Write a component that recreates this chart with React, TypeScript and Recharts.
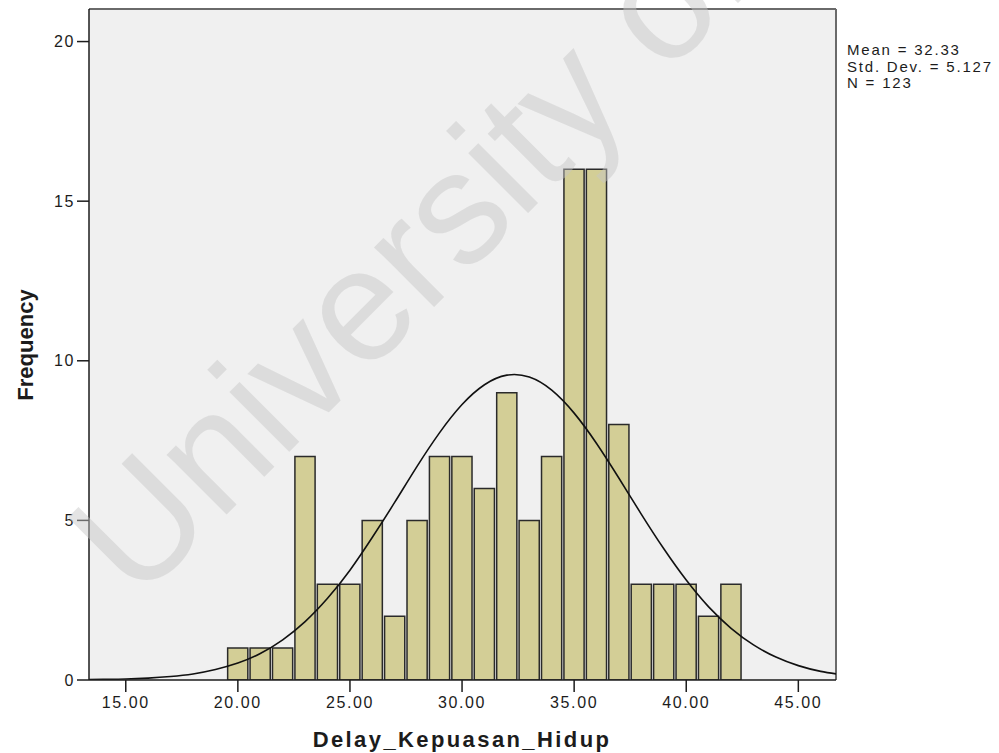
import React from 'react';
import { ComposedChart, Bar, Line, XAxis, YAxis, CartesianGrid, ReferenceLine } from 'recharts';

// histogram bins (centre of each 1-unit bin) and their frequencies
const binCenters = [20, 21, 22, 23, 24, 25, 26, 27, 28, 29, 30, 31, 32, 33, 34, 35, 36, 37, 38, 39, 40, 41, 42];
const frequencies = [1, 1, 1, 7, 3, 3, 5, 2, 5, 7, 7, 6, 9, 5, 7, 16, 16, 8, 3, 3, 3, 2, 3];

// fitted normal curve, sampled at whole units
const curveX = [13, 14, 15, 16, 17, 18, 19, 20, 21, 22, 23, 24, 25, 26, 27, 28, 29, 30, 31, 32, 33, 34, 35, 36, 37, 38, 39, 40, 41, 42, 43, 44, 45, 46, 47];
const curveY = [0.01, 0.02, 0.03, 0.06, 0.11, 0.19, 0.33, 0.53, 0.83, 1.26, 1.83, 2.56, 3.44, 4.47, 5.57, 6.70, 7.75, 8.63, 9.25, 9.55, 9.49, 9.08, 8.36, 7.41, 6.32, 5.19, 4.11, 3.13, 2.29, 1.62, 1.10, 0.72, 0.45, 0.27, 0.16];

const xTicks = [15, 20, 25, 30, 35, 40, 45];
const yTicks = [0, 5, 10, 15, 20];
const statLines = ['Mean = 32.33', 'Std. Dev. = 5.127', 'N = 123'];

const X_DOMAIN: [number, number] = [13.36, 46.68];
const Y_DOMAIN: [number, number] = [0, 21.02];

const histData = binCenters.map((x, i) => ({ x, count: frequencies[i] }));
const curveData = curveX.map((x, i) => ({ x, fit: curveY[i] }));

const W = 999;
const H = 753;
const MARGIN = { top: 9, right: 163, bottom: 33, left: 29 };
const Y_AXIS_W = 60;
const X_AXIS_H = 40;
const PLOT_W = W - MARGIN.left - MARGIN.right - Y_AXIS_W;
const BIN_PX = PLOT_W / (X_DOMAIN[1] - X_DOMAIN[0]);

const FONT = '"Liberation Sans", Arial, sans-serif';
const INK = '#1c1c1c';

const XTick = ({ x, y, payload }: any) => (
  <text x={x} y={y} dy={14} textAnchor="middle" fill={INK} fontSize={16} fontFamily={FONT} letterSpacing={1.6}>
    {Number(payload.value).toFixed(2)}
  </text>
);

const YTick = ({ x, y, payload }: any) => (
  <text x={x} y={y} dy={5.6} textAnchor="end" fill={INK} fontSize={16} fontFamily={FONT} letterSpacing={1.6}>
    {payload.value}
  </text>
);

export default function App() {
  return (
    <div style={{ position: 'absolute', left: 0, top: 0, width: W, height: H, background: '#fff' }}>
      <ComposedChart width={W} height={H} data={histData} margin={MARGIN}>
        <CartesianGrid fill="#f0f0f0" horizontal={false} vertical={false} />
        <XAxis
          dataKey="x"
          type="number"
          domain={X_DOMAIN}
          allowDataOverflow
          ticks={xTicks}
          height={X_AXIS_H}
          tickSize={12}
          tick={<XTick />}
          tickLine={{ stroke: INK, strokeWidth: 1.5 }}
          axisLine={{ stroke: INK, strokeWidth: 1.5 }}
        />
        <YAxis
          type="number"
          domain={Y_DOMAIN}
          allowDataOverflow
          ticks={yTicks}
          width={Y_AXIS_W}
          tickSize={12}
          tick={<YTick />}
          tickLine={{ stroke: INK, strokeWidth: 1.5 }}
          axisLine={{ stroke: INK, strokeWidth: 1.5 }}
        />
        <ReferenceLine y={Y_DOMAIN[1]} stroke="#6a6a6a" strokeWidth={2} />
        <ReferenceLine x={X_DOMAIN[1]} stroke="#6a6a6a" strokeWidth={2} />
        <Bar
          dataKey="count"
          barSize={BIN_PX}
          fill="#d3ce96"
          stroke="#2a2a2a"
          strokeWidth={1.5}
          isAnimationActive={false}
        />
        <Line
          data={curveData}
          dataKey="fit"
          type="natural"
          stroke="#111"
          strokeWidth={1.6}
          dot={false}
          activeDot={false}
          isAnimationActive={false}
        />
      </ComposedChart>

      <svg width={W} height={H} style={{ position: 'absolute', left: 0, top: 0, pointerEvents: 'none' }}>
        <text
          transform="translate(137,604) rotate(-45)"
          fontFamily={FONT}
          fontSize={160}
          fill="#c5c5c5"
          fillOpacity={0.47}
        >
          University of
        </text>
        <text
          transform="translate(33,345) rotate(-90)"
          textAnchor="middle"
          fontFamily={FONT}
          fontWeight="bold"
          fontSize={22}
          fill={INK}
        >
          Frequency
        </text>
        <text x={462} y={747} textAnchor="middle" fontFamily={FONT} fontWeight="bold" fontSize={22} letterSpacing={2.4} fill={INK}>
          Delay_Kepuasan_Hidup
        </text>
        {statLines.map((s, i) => (
          <text key={s} x={847} y={55 + i * 16.7} fontFamily={FONT} fontSize={15} letterSpacing={1.8} fill={INK}>
            {s}
          </text>
        ))}
      </svg>
    </div>
  );
}
